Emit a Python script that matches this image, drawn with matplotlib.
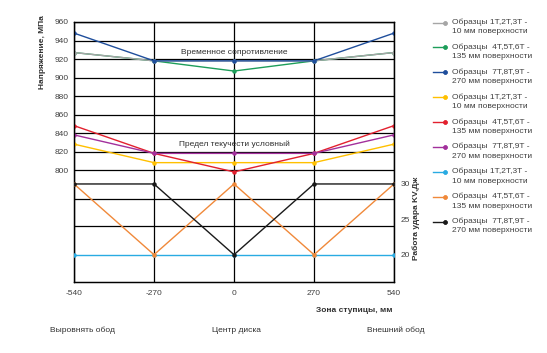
import matplotlib
matplotlib.use('Agg')
import matplotlib.pyplot as plt
from matplotlib.lines import Line2D

plt.rcParams['font.family'] = ['Liberation Sans', 'DejaVu Sans']
plt.rcParams['font.size'] = 6
plt.rcParams['axes.unicode_minus'] = False

# зона ступицы, мм
zone = [-540, -270, 0, 270, 540]

# временное сопротивление, МПа
uts_10 = [927, 918, 918, 918, 927]
uts_135 = [927, 918, 907, 918, 927]
uts_270 = [948, 918, 918, 918, 948]
# предел текучести условный, МПа
ys_10 = [828, 808, 808, 808, 828]
ys_135 = [848, 818, 798, 818, 848]
ys_270 = [838, 818, 818, 818, 838]
# работа удара KV, Дж
kv_10 = [20, 20, 20, 20, 20]
kv_135 = [30, 20, 30, 20, 30]
kv_270 = [30, 30, 20, 30, 30]

labels = ['Образцы 1T,2T,3T -\n10 мм поверхности',
          'Образцы  4T,5T,6T -\n135 мм поверхности',
          'Образцы  7T,8T,9T -\n270 мм поверхности'] * 3
colors = ['#a6a6a6', '#1e9e5a', '#1f4e9c',
          '#ffc000', '#e2202e', '#a2309c',
          '#29abe2', '#f0893a', '#1a1a1a']

left_ticks = [800, 820, 840, 860, 880, 900, 920, 940, 960]
extra_grid = [769, 739.5]
right_ticks = [20, 25, 30]

fig = plt.figure(figsize=(5.47, 3.53), dpi=100)
ax = fig.add_axes([74 / 547, 1 - 282 / 353, 320 / 547, 260 / 353])
ax2 = ax.twinx()

left_series = [uts_10, uts_135, uts_270, ys_10, ys_135, ys_270]
right_series = [kv_10, kv_135, kv_270]
order = [1, 0, 2, 3, 4, 5]
for i in order:
    ax.plot(zone, left_series[i], color=colors[i], lw=1, marker='o', ms=2.2, zorder=3)
for j, ys in enumerate(right_series):
    ax2.plot(zone, ys, color=colors[6 + j], lw=1, marker='o', ms=2.2, zorder=3)

ax.set_xlim(-540, 540)
ax.set_ylim(679, 960)
ax2.set_ylim(16.14, 52.9)
ax.set_xticks(zone)
ax.set_yticks(left_ticks)
ax2.set_yticks(right_ticks)
ax.grid(True, color='black', lw=0.9, zorder=0)
for v in extra_grid:
    ax.axhline(v, color='black', lw=0.9, zorder=0)
ax.set_axisbelow(True)
for a in (ax, ax2):
    a.tick_params(length=0, colors='#404040', labelsize=6)
    for s in a.spines.values():
        s.set_color('black')
        s.set_linewidth(0.9)
ax.tick_params(axis='y', pad=4)
ax.tick_params(axis='x', pad=6)
ax2.tick_params(axis='y', pad=5)

ax.text(0, 927, 'Временное сопротивление', ha='center', va='center', fontsize=6, color='#303030')
ax.text(0, 828, 'Предел текучести условный', ha='center', va='center', fontsize=6, color='#303030')

fig.text(43 / 547, 1 - 52 / 353, 'Напряжение, МПа', rotation=90, ha='center', va='center',
         fontsize=6, fontweight='bold', color='#303030')
fig.text(416 / 547, 1 - 218 / 353, 'Работа удара KV,Дж', rotation=90, ha='center', va='center',
         fontsize=6, fontweight='bold', color='#303030')
fig.text(393 / 547, 1 - 311 / 353, 'Зона ступицы, мм', ha='right', va='center',
         fontsize=6, fontweight='bold', color='#303030')
fig.text(82 / 547, 1 - 330 / 353, 'Выровнять обод', ha='center', va='center', fontsize=6, color='#303030')
fig.text(236 / 547, 1 - 330 / 353, 'Центр диска', ha='center', va='center', fontsize=6, color='#303030')
fig.text(396 / 547, 1 - 330 / 353, 'Внешний обод', ha='center', va='center', fontsize=6, color='#303030')

# легенда
for k, (lab, c) in enumerate(zip(labels, colors)):
    y = 1 - (22.5 + k * 24.9) / 353
    fig.add_artist(Line2D([433 / 547, 445 / 547], [y, y], color=c, lw=1,
                          marker='o', ms=2.2, markevery=[1, 1], transform=fig.transFigure))
    fig.text(452 / 547, y + 4 / 353, lab, ha='left', va='top', fontsize=6,
             color='#404040', linespacing=1.45)

fig.savefig('out.png', dpi=100)
